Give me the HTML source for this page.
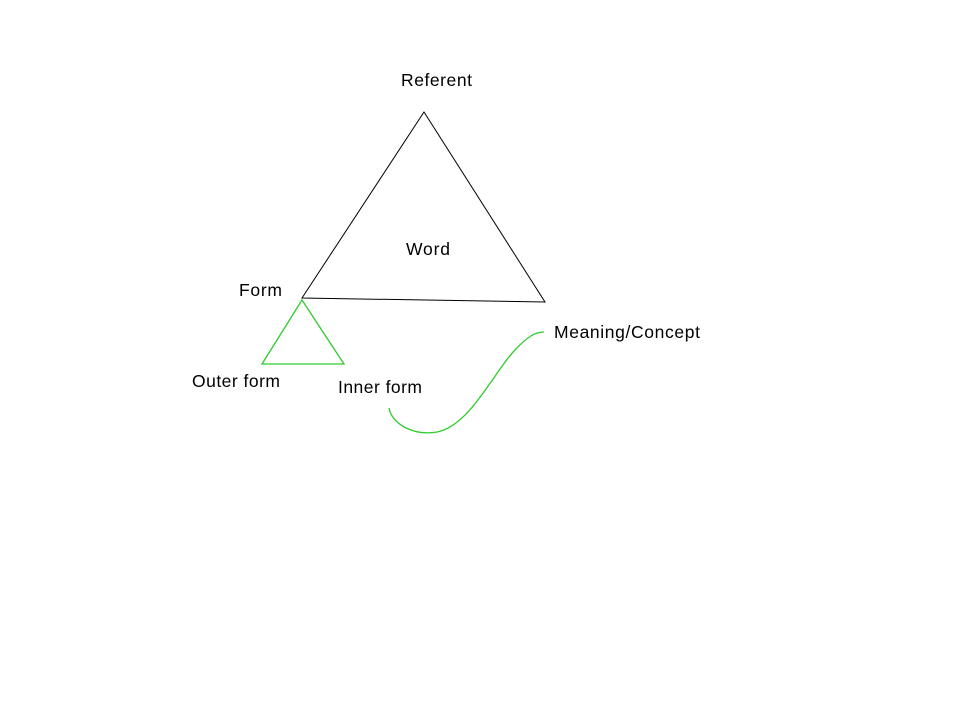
<!DOCTYPE html>
<html><head><style>body{margin:0;background:#fff}svg text{font-family:"Liberation Sans",sans-serif;font-size:17.5px;fill:#000}</style></head>
<body><svg width="960" height="720" xmlns="http://www.w3.org/2000/svg">
<polygon points="424,112 302,298 545,302" fill="none" stroke="#000" stroke-width="1"/>
<polygon points="302,300 262,364 344,364" fill="none" stroke="#2ecc2e" stroke-width="1.3"/>
<path d="M389,408 C392,425 415,436 437,432 C470,426 495,370 515,350 C527,337 535,332 544,332" fill="none" stroke="#2ecc2e" stroke-width="1.3"/>
<text x="401" y="86" textLength="71">Referent</text>
<text x="406" y="255" textLength="44">Word</text>
<text x="239" y="296" textLength="43">Form</text>
<text x="554" y="338" textLength="146">Meaning/Concept</text>
<text x="192" y="387" textLength="88">Outer form</text>
<text x="338" y="393" textLength="84">Inner form</text>
</svg></body></html>
